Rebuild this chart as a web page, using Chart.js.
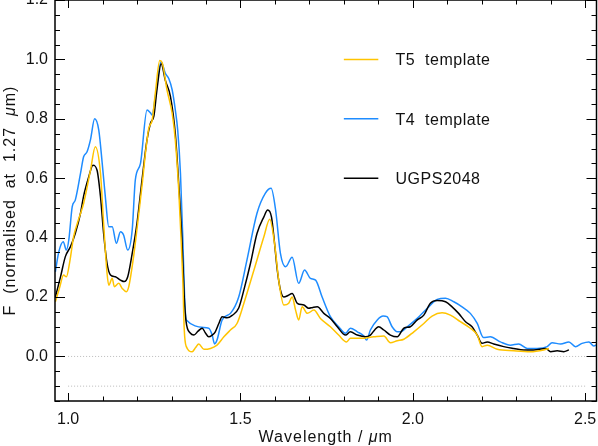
<!DOCTYPE html>
<html>
<head>
<meta charset="utf-8">
<script src="https://cdn.jsdelivr.net/npm/chart.js@4/dist/chart.umd.min.js"></script>
<style>
  body { margin: 0; background: #fff; }
  canvas { display: block; }
</style>
</head>
<body>
<canvas id="spectrum" width="598" height="446"></canvas>
<script>
// UGPS2048 spectrum
const waveUgps = [0.963, 0.978, 0.992, 1.007, 1.021, 1.036, 1.045, 1.060, 1.072, 1.084, 1.094, 1.103, 1.113, 1.123, 1.137, 1.152, 1.163, 1.173, 1.186, 1.200, 1.215, 1.229, 1.239, 1.249, 1.258, 1.270, 1.282, 1.297, 1.311, 1.321, 1.330, 1.337, 1.342, 1.355, 1.365, 1.377, 1.389, 1.398, 1.408, 1.418, 1.427, 1.437, 1.447, 1.461, 1.476, 1.495, 1.510, 1.529, 1.548, 1.568, 1.579, 1.590, 1.597, 1.607, 1.616, 1.626, 1.638, 1.650, 1.665, 1.684, 1.698, 1.710, 1.723, 1.742, 1.761, 1.781, 1.805, 1.819, 1.839, 1.863, 1.877, 1.890, 1.901, 1.916, 1.935, 1.955, 1.974, 1.993, 2.013, 2.032, 2.051, 2.071, 2.095, 2.114, 2.133, 2.153, 2.172, 2.187, 2.201, 2.216, 2.235, 2.264, 2.293, 2.322, 2.351, 2.385, 2.400, 2.419, 2.438, 2.453];
const fluxUgps = [0.200, 0.268, 0.336, 0.370, 0.415, 0.482, 0.540, 0.605, 0.644, 0.627, 0.538, 0.415, 0.313, 0.274, 0.268, 0.257, 0.252, 0.268, 0.347, 0.450, 0.600, 0.730, 0.785, 0.810, 0.900, 0.985, 0.930, 0.875, 0.750, 0.580, 0.400, 0.200, 0.120, 0.078, 0.072, 0.085, 0.095, 0.080, 0.066, 0.072, 0.083, 0.110, 0.134, 0.130, 0.138, 0.163, 0.224, 0.313, 0.414, 0.470, 0.493, 0.470, 0.403, 0.290, 0.224, 0.200, 0.205, 0.212, 0.179, 0.173, 0.162, 0.165, 0.167, 0.145, 0.128, 0.100, 0.072, 0.083, 0.072, 0.066, 0.072, 0.090, 0.100, 0.089, 0.072, 0.066, 0.095, 0.100, 0.123, 0.139, 0.179, 0.188, 0.184, 0.167, 0.145, 0.117, 0.100, 0.072, 0.044, 0.049, 0.042, 0.033, 0.027, 0.022, 0.022, 0.027, 0.016, 0.019, 0.016, 0.022];

// T5 template
const waveT5 = [0.963, 0.975, 0.987, 0.995, 1.005, 1.016, 1.030, 1.045, 1.065, 1.079, 1.094, 1.103, 1.113, 1.118, 1.128, 1.134, 1.147, 1.157, 1.169, 1.176, 1.190, 1.205, 1.215, 1.224, 1.234, 1.244, 1.253, 1.266, 1.273, 1.287, 1.302, 1.311, 1.321, 1.328, 1.333, 1.337, 1.343, 1.360, 1.370, 1.379, 1.394, 1.413, 1.432, 1.452, 1.471, 1.490, 1.510, 1.539, 1.568, 1.585, 1.599, 1.611, 1.626, 1.640, 1.650, 1.660, 1.669, 1.679, 1.694, 1.713, 1.732, 1.761, 1.785, 1.808, 1.819, 1.848, 1.887, 1.916, 1.935, 1.955, 1.974, 2.003, 2.032, 2.056, 2.085, 2.109, 2.138, 2.167, 2.187, 2.201, 2.216, 2.245, 2.293, 2.341, 2.380, 2.395];
const fluxT5 = [0.184, 0.230, 0.274, 0.268, 0.320, 0.403, 0.460, 0.515, 0.627, 0.706, 0.616, 0.448, 0.280, 0.240, 0.263, 0.235, 0.246, 0.229, 0.218, 0.235, 0.336, 0.480, 0.580, 0.680, 0.768, 0.796, 0.886, 0.996, 0.989, 0.897, 0.818, 0.729, 0.560, 0.390, 0.250, 0.090, 0.033, 0.016, 0.030, 0.042, 0.024, 0.027, 0.038, 0.066, 0.089, 0.111, 0.179, 0.290, 0.403, 0.462, 0.380, 0.257, 0.173, 0.179, 0.200, 0.156, 0.123, 0.167, 0.145, 0.156, 0.128, 0.100, 0.072, 0.049, 0.061, 0.061, 0.066, 0.069, 0.046, 0.053, 0.058, 0.083, 0.111, 0.136, 0.147, 0.139, 0.117, 0.095, 0.072, 0.033, 0.038, 0.024, 0.019, 0.016, 0.022, 0.027];

// T4 template
const waveT4 = [0.963, 0.973, 0.986, 0.995, 1.002, 1.012, 1.021, 1.036, 1.045, 1.055, 1.065, 1.077, 1.089, 1.099, 1.108, 1.118, 1.128, 1.140, 1.152, 1.161, 1.173, 1.186, 1.195, 1.210, 1.229, 1.239, 1.244, 1.253, 1.270, 1.282, 1.292, 1.302, 1.311, 1.318, 1.326, 1.333, 1.338, 1.343, 1.408, 1.418, 1.425, 1.432, 1.447, 1.471, 1.495, 1.519, 1.548, 1.572, 1.589, 1.602, 1.616, 1.631, 1.650, 1.669, 1.686, 1.703, 1.718, 1.737, 1.761, 1.785, 1.805, 1.819, 1.839, 1.858, 1.866, 1.877, 1.897, 1.914, 1.925, 1.940, 1.955, 1.964, 1.984, 2.013, 2.042, 2.071, 2.095, 2.119, 2.143, 2.167, 2.187, 2.205, 2.225, 2.254, 2.283, 2.307, 2.332, 2.361, 2.390, 2.404, 2.429, 2.453, 2.472, 2.491, 2.511, 2.525, 2.535];
const fluxT4 = [0.285, 0.352, 0.386, 0.358, 0.392, 0.504, 0.527, 0.616, 0.672, 0.689, 0.730, 0.800, 0.762, 0.650, 0.538, 0.437, 0.437, 0.381, 0.420, 0.409, 0.358, 0.426, 0.594, 0.650, 0.830, 0.820, 0.813, 0.874, 0.992, 0.953, 0.936, 0.897, 0.830, 0.762, 0.616, 0.390, 0.200, 0.123, 0.095, 0.072, 0.042, 0.055, 0.123, 0.145, 0.200, 0.325, 0.482, 0.549, 0.566, 0.493, 0.347, 0.302, 0.334, 0.246, 0.291, 0.263, 0.257, 0.200, 0.134, 0.100, 0.078, 0.095, 0.083, 0.069, 0.055, 0.089, 0.123, 0.136, 0.134, 0.100, 0.083, 0.083, 0.100, 0.128, 0.162, 0.192, 0.196, 0.184, 0.167, 0.145, 0.111, 0.064, 0.066, 0.049, 0.038, 0.042, 0.027, 0.027, 0.033, 0.046, 0.042, 0.049, 0.033, 0.044, 0.049, 0.035, 0.040];

const xTicks = [1.0, 1.5, 2.0, 2.5];
const yTicks = [0.0, 0.2, 0.4, 0.6, 0.8, 1.0, 1.2];
const refLevels = [0.0, -0.1];
const refSpan = [1.0, 2.5];

const yellow = "rgb(255,196,0)";
const blue = "rgb(30,140,255)";
const font = "Liberation Sans, Arial, sans-serif";

function pairs(xs, ys) {
  return xs.map((x, i) => ({ x: x, y: ys[i] }));
}

const series = [
  { label: "T5  template", data: pairs(waveT5, fluxT5), borderColor: yellow, order: 1 },
  { label: "T4  template", data: pairs(waveT4, fluxT4), borderColor: blue, order: 3 },
  { label: "UGPS2048", data: pairs(waveUgps, fluxUgps), borderColor: "#000", order: 2 },
];

const refLines = refLevels.map((lvl) => ({
  label: "",
  data: refSpan.map((x) => ({ x: x, y: lvl })),
  borderColor: "#bbb",
  borderWidth: 1,
  borderDash: [1, 2],
  order: 5,
}));

// box, inward ticks, legend and axis titles
const frame = {
  id: "frame",
  afterDatasetsDraw(chart) {
    const { ctx, chartArea: a, scales } = chart;
    const sx = scales.x, sy = scales.y;
    ctx.save();
    ctx.strokeStyle = "#000";
    ctx.lineWidth = 1.5;
    ctx.strokeRect(a.left, a.top, a.right - a.left, a.bottom - a.top);

    ctx.lineWidth = 1;
    ctx.beginPath();
    for (let i = 10; i <= 25; i++) {
      const px = Math.round(sx.getPixelForValue(i / 10)) + 0.5;
      const len = i % 5 === 0 ? 8 : 4.5;
      ctx.moveTo(px, a.bottom); ctx.lineTo(px, a.bottom - len);
      ctx.moveTo(px, a.top); ctx.lineTo(px, a.top + len);
    }
    for (let i = -3; i <= 24; i++) {
      const py = Math.round(sy.getPixelForValue(i / 20)) + 0.5;
      const len = i % 4 === 0 ? 10 : 5;
      ctx.moveTo(a.left, py); ctx.lineTo(a.left + len, py);
      ctx.moveTo(a.right, py); ctx.lineTo(a.right - len, py);
    }
    ctx.stroke();

    // legend
    ctx.font = "16px " + font;
    ctx.letterSpacing = "0.5px";
    ctx.fillStyle = "#111";
    ctx.textBaseline = "alphabetic";
    ctx.lineWidth = 1.5;
    [1.0, 0.8, 0.6].forEach((lvl, i) => {
      const ds = chart.data.datasets[i];
      const py = sy.getPixelForValue(lvl);
      ctx.strokeStyle = ds.borderColor;
      ctx.beginPath();
      ctx.moveTo(sx.getPixelForValue(1.8), py);
      ctx.lineTo(sx.getPixelForValue(1.9), py);
      ctx.stroke();
      ctx.fillText(ds.label, sx.getPixelForValue(1.95), py + 6);
    });

    // axis titles with italic mu
    ctx.letterSpacing = "1px";
    const pieces = (parts) => parts.map((p) => {
      ctx.font = (p.it ? "italic " : "") + "16px " + font;
      return { t: p.t, f: ctx.font, w: ctx.measureText(p.t).width };
    });
    const drawPieces = (ps, cx, baseY) => {
      const total = ps.reduce((s, p) => s + p.w, 0);
      let x0 = cx - total / 2;
      ps.forEach((p) => { ctx.font = p.f; ctx.fillText(p.t, x0, baseY); x0 += p.w; });
    };
    ctx.textAlign = "left";
    drawPieces(pieces([{ t: "Wavelength / " }, { t: "\u03bc", it: true }, { t: "m" }]), (a.left + a.right) / 2, 442);
    ctx.translate(15, (a.top + a.bottom) / 2);
    ctx.rotate(-Math.PI / 2);
    drawPieces(pieces([{ t: "F  (normalised  at  1.27  " }, { t: "\u03bc", it: true }, { t: "m)" }]), 0, 0);
    ctx.restore();
  },
};

new Chart(document.getElementById("spectrum"), {
  type: "line",
  data: {
    datasets: series.map((s) => ({
      ...s,
      borderWidth: 1.5,
      pointRadius: 0,
      fill: false,
      cubicInterpolationMode: "monotone",
    })).concat(refLines.map((r) => ({ ...r, pointRadius: 0, fill: false }))),
  },
  options: {
    responsive: false,
    animation: false,
    layout: { padding: { top: 0, right: 1.5, left: 0, bottom: 0 } },
    scales: {
      x: {
        type: "linear",
        min: 0.962,
        max: 2.533,
        grid: { display: false, drawTicks: false },
        border: { display: false },
        ticks: {
          padding: 9,
          color: "#111",
          font: { family: font, size: 16 },
          maxRotation: 0,
          callback: (v) => v.toFixed(1),
        },
        afterBuildTicks: (scale) => { scale.ticks = xTicks.map((v) => ({ value: v })); },
        afterFit: (scale) => { scale.height = 45; scale.paddingLeft = 0; scale.paddingRight = 0; },
      },
      y: {
        type: "linear",
        min: -0.15,
        max: 1.2,
        grid: { display: false, drawTicks: false },
        border: { display: false },
        ticks: {
          padding: 7,
          color: "#111",
          font: { family: font, size: 16 },
          callback: (v) => v.toFixed(1),
        },
        afterBuildTicks: (scale) => { scale.ticks = yTicks.map((v) => ({ value: v })); },
        afterFit: (scale) => { scale.width = 55; scale.paddingTop = 0; scale.paddingBottom = 0; },
      },
    },
    plugins: {
      legend: { display: false },
      tooltip: { enabled: false },
    },
  },
  plugins: [frame],
});
</script>
</body>
</html>
